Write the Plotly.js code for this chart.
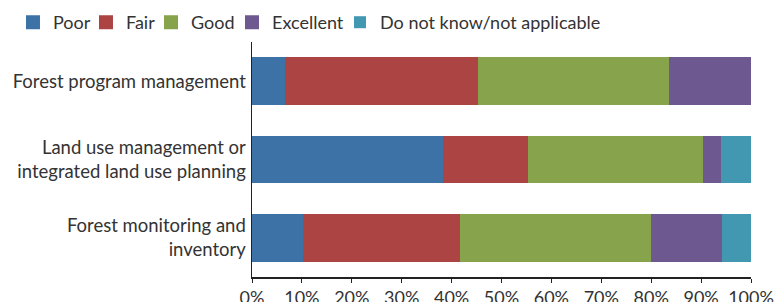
<!DOCTYPE html>
<html><head><meta charset="utf-8">
<script src="https://cdn.plot.ly/plotly-3.0.1.min.js"></script>
<style>html,body{margin:0;padding:0;background:#fff}#chart{width:775px;height:302px}</style>
</head><body><div id="chart"></div>
<script>
var categories = ["Forest program management", "Land use management or<br>integrated land use planning", "Forest monitoring and<br>inventory"];
var seriesNames = ["Poor", "Fair", "Good", "Excellent", "Do not know/not applicable"];
var poor = [6.9, 38.4, 10.5];
var fair = [38.5, 17.2, 31.3];
var good = [38.3, 34.9, 38.4];
var excellent = [16.3, 3.7, 14.2];
var dontKnow = [0, 5.8, 5.6];
var tickVals = [0,10,20,30,40,50,60,70,80,90,100];
var tickText = ["0%","10%","20%","30%","40%","50%","60%","70%","80%","90%","100%"];
var colors = ["#3D72A6", "#AC4444", "#87A34C", "#6E5890", "#4298B0"];
var values = [poor, fair, good, excellent, dontKnow];

// legend entry positions (paper x of each legend box, layout only)
var legendX = [-0.479, -0.3327, -0.2024, -0.0401, 0.1764];

var fam = 'Lato, "Open Sans", sans-serif';
var traces = values.map(function(v, i){
  return {type:'bar', orientation:'h', name: seriesNames[i], x: v, y: categories,
    legend: i === 0 ? 'legend' : 'legend' + (i + 1),
    marker:{color: colors[i], line:{width: v.map(function(d){ return d > 0 ? 2 : 0; }), color: colors[i]}},
    hoverinfo:'x+name'};
});
var layout = {
  barmode:'stack', bargap:0.414,
  width:775, height:302,
  margin:{l:252, r:24, t:42, b:24.5, pad:0, autoexpand:false},
  paper_bgcolor:'#fff', plot_bgcolor:'#fff',
  font: {family:fam, size:18, color:'#333'},
  showlegend:true,
  xaxis:{range:[0,100], tickvals:tickVals, ticktext:tickText, showgrid:false, zeroline:false,
    showline:true, linecolor:'#222', linewidth:1.5, ticks:'outside', ticklen:4, tickcolor:'#222',
    tickfont:{family:fam, size:18, color:'#333'}, fixedrange:true, automargin:false},
  yaxis:{autorange:'reversed', showgrid:false, zeroline:false, showline:true, linecolor:'#222', linewidth:1.5,
    ticks:'', ticklabelstandoff:1, tickfont:{family:fam, size:18.5, color:'#333'}, fixedrange:true, automargin:false}
};
legendX.forEach(function(lx, i){
  var key = i === 0 ? 'legend' : 'legend' + (i + 1);
  layout[key] = {orientation:'h', x: lx, y: 1.083, xanchor:'left', yanchor:'middle',
    font:{family:fam, size:18, color:'#333'}, bgcolor:'rgba(0,0,0,0)', borderwidth:0};
});
Plotly.newPlot('chart', traces, layout, {displayModeBar:false, staticPlot:true});
</script></body></html>
